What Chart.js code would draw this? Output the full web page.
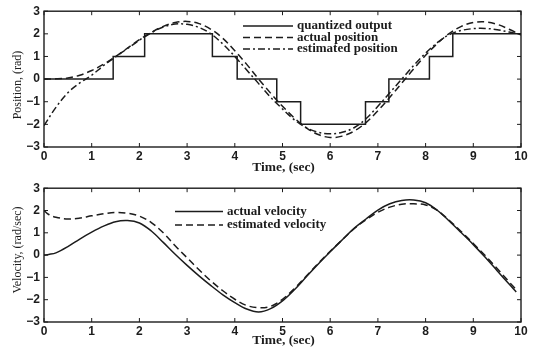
<!DOCTYPE html>
<html>
<head>
<meta charset="utf-8">
<script src="https://cdn.jsdelivr.net/npm/chart.js@4.4.1/dist/chart.umd.min.js"></script>
<style>
  body { margin: 0; background: #fff; }
  .panel { position: absolute; left: 0; width: 534px; height: 177px; }
</style>
</head>
<body>
<div class="panel" style="top:0"><canvas id="posChart"></canvas></div>
<div class="panel" style="top:177px"><canvas id="velChart"></canvas></div>
<script>
// sample times (sec)
const times = [0, 0.25, 0.5, 0.75, 1, 1.25, 1.5, 1.75, 2, 2.25, 2.5, 2.75, 3, 3.25, 3.5, 3.75,
  4, 4.25, 4.5, 4.75, 5, 5.25, 5.5, 5.75, 6, 6.25, 6.5, 6.75, 7, 7.25, 7.5, 7.75,
  8, 8.25, 8.5, 8.75, 9, 9.25, 9.5, 9.75, 10];

const actualPosition = [0, 0.01, 0.05, 0.17, 0.38, 0.66, 1.0, 1.37, 1.74, 2.06, 2.33, 2.5,
  2.55, 2.45, 2.2, 1.8, 1.25, 0.65, 0.0, -0.62, -1.2, -1.72, -2.15, -2.45, -2.58, -2.52,
  -2.3, -1.92, -1.4, -0.8, -0.18, 0.45, 1.05, 1.58, 2.02, 2.33, 2.5, 2.53, 2.42, 2.2, 1.95];

const estimatedPosition = [-2.05, -1.25, -0.6, -0.17, 0.17, 0.6, 0.98, 1.35, 1.72, 2.05, 2.3,
  2.43, 2.42, 2.28, 2.0, 1.55, 1.0, 0.4, -0.2, -0.8, -1.32, -1.8, -2.15, -2.35, -2.42,
  -2.35, -2.15, -1.75, -1.2, -0.6, 0.0, 0.6, 1.15, 1.62, 1.97, 2.15, 2.23, 2.24, 2.18, 2.08, 1.98];

// quantizer output: level holds from each switch time to the next
const quantTimes = [0, 1.45, 2.11, 3.53, 4.05, 4.88, 5.38, 6.74, 7.23, 8.08, 8.57, 10];
const quantLevels = [0, 1, 2, 1, 0, -1, -2, -1, 0, 1, 2, 2];

const velTimes = [0, 0.1, 0.25, 0.5, 0.75, 1, 1.25, 1.5, 1.75, 2, 2.25, 2.5, 2.75, 3, 3.25, 3.5,
  3.75, 4, 4.25, 4.5, 4.75, 5, 5.25, 5.5, 5.75, 6, 6.25, 6.5, 6.75, 7, 7.25, 7.5, 7.75,
  8, 8.25, 8.5, 8.75, 9, 9.25, 9.5, 9.75, 9.9];

const actualVelocity = [0, 0.03, 0.1, 0.38, 0.72, 1.03, 1.3, 1.5, 1.55, 1.44, 1.08, 0.57, 0.04,
  -0.46, -0.93, -1.37, -1.78, -2.13, -2.42, -2.55, -2.4, -2.05, -1.55, -0.97, -0.4, 0.15,
  0.68, 1.2, 1.62, 2.02, 2.3, 2.45, 2.47, 2.35, 2.0, 1.52, 1.0, 0.47, -0.1, -0.7, -1.3, -1.65];

const estimatedVelocity = [2.0, 1.82, 1.7, 1.62, 1.66, 1.76, 1.85, 1.91, 1.88, 1.75, 1.46, 1.0,
  0.42, -0.12, -0.66, -1.16, -1.6, -1.98, -2.26, -2.36, -2.3, -1.98, -1.5, -0.94, -0.37, 0.17,
  0.68, 1.18, 1.58, 1.92, 2.15, 2.28, 2.3, 2.25, 2.0, 1.55, 1.05, 0.52, -0.02, -0.6, -1.2, -1.55];

const xTicks = [0, 1, 2, 3, 4, 5, 6, 7, 8, 9, 10];
const yTicks = [-3, -2, -1, 0, 1, 2, 3];

const ink = '#1c1c1c';
const tickFont = { family: 'Liberation Sans', size: 12, weight: 'bold' };

function pairs(xs, ys) {
  return xs.map((x, i) => ({ x: x, y: ys[i] }));
}

// matlab style frame: box, inward ticks on all sides, titles and a frameless legend
const matlabFrame = {
  id: 'matlabFrame',
  afterDraw(chart, args, opts) {
    const { ctx, chartArea: a, scales } = chart;
    const line = (x1, y1, x2, y2) => {
      ctx.beginPath(); ctx.moveTo(x1, y1); ctx.lineTo(x2, y2); ctx.stroke();
    };
    ctx.save();
    ctx.strokeStyle = ink;
    ctx.lineWidth = 1.4;
    ctx.strokeRect(a.left, a.top, a.right - a.left, a.bottom - a.top);
    ctx.lineWidth = 1;
    xTicks.forEach(v => {
      const px = scales.x.getPixelForValue(v);
      line(px, a.bottom, px, a.bottom - 4);
      line(px, a.top, px, a.top + 4);
    });
    yTicks.forEach(v => {
      const py = scales.y.getPixelForValue(v);
      line(a.left, py, a.left + 4, py);
      line(a.right, py, a.right - 4, py);
    });

    ctx.fillStyle = ink;
    ctx.textAlign = 'center';
    ctx.textBaseline = 'middle';
    ctx.font = 'bold 13.5px "Liberation Serif"';
    ctx.fillText(opts.xTitle, (a.left + a.right) / 2 + 1, a.bottom + opts.xTitleGap);

    ctx.save();
    ctx.translate(18, opts.yTitleY);
    ctx.rotate(-Math.PI / 2);
    ctx.font = '12px "Liberation Serif"';
    ctx.fillText(opts.yTitle, 0, 0);
    ctx.restore();

    ctx.textAlign = 'left';
    ctx.font = 'bold 13px "Liberation Serif"';
    chart.data.datasets.forEach((ds, i) => {
      const ly = opts.legendY + i * opts.legendGap;
      ctx.setLineDash(ds.borderDash || []);
      ctx.lineWidth = 1.4;
      line(opts.legendX, ly, opts.legendX + opts.legendLen, ly);
      ctx.setLineDash([]);
      ctx.fillText(ds.label, opts.legendX + opts.legendLen + 4, ly);
    });
    ctx.restore();
  }
};

function axisOptions(bottomHeight) {
  return {
    x: {
      type: 'linear', min: 0, max: 10,
      afterFit: s => { s.height = bottomHeight; },
      afterBuildTicks: s => { s.ticks = xTicks.map(v => ({ value: v })); },
      grid: { display: false, drawTicks: false },
      border: { display: false },
      ticks: { color: ink, font: tickFont, padding: 2, maxRotation: 0 }
    },
    y: {
      min: -3, max: 3,
      afterFit: s => { s.width = 44; },
      afterBuildTicks: s => { s.ticks = yTicks.map(v => ({ value: v })); },
      grid: { display: false, drawTicks: false },
      border: { display: false },
      ticks: { color: ink, font: tickFont, padding: 4, callback: v => String(v).replace('-', '\u2212') }
    }
  };
}

const common = {
  responsive: false,
  animation: false,
  events: [],
  elements: { point: { radius: 0 }, line: { borderWidth: 1.5, tension: 0.35 } },
};

const posCanvas = document.getElementById('posChart');
posCanvas.width = 534; posCanvas.height = 177;
new Chart(posCanvas, {
  type: 'line',
  data: {
    datasets: [
      { label: 'quantized output', data: pairs(quantTimes, quantLevels), stepped: 'before',
        borderColor: ink },
      { label: 'actual position', data: pairs(times, actualPosition),
        borderColor: ink, borderDash: [7, 4] },
      { label: 'estimated position', data: pairs(times, estimatedPosition),
        borderColor: ink, borderDash: [7, 3, 2, 3] }
    ]
  },
  options: Object.assign({}, common, {
    layout: { padding: { top: 11, right: 13, left: 0, bottom: 0 } },
    scales: axisOptions(30),
    plugins: {
      legend: { display: false }, tooltip: { enabled: false },
      matlabFrame: { xTitle: 'Time, (sec)', xTitleGap: 21, yTitle: 'Position, (rad)', yTitleY: 85,
        legendX: 243, legendY: 26, legendGap: 11.5, legendLen: 50 }
    }
  }),
  plugins: [matlabFrame]
});

const velCanvas = document.getElementById('velChart');
velCanvas.width = 534; velCanvas.height = 177;
new Chart(velCanvas, {
  type: 'line',
  data: {
    datasets: [
      { label: 'actual velocity', data: pairs(velTimes, actualVelocity),
        borderColor: ink },
      { label: 'estimated velocity', data: pairs(velTimes, estimatedVelocity),
        borderColor: ink, borderDash: [7, 4] }
    ]
  },
  options: Object.assign({}, common, {
    layout: { padding: { top: 10, right: 13, left: 0, bottom: 0 } },
    scales: axisOptions(32),
    plugins: {
      legend: { display: false }, tooltip: { enabled: false },
      matlabFrame: { xTitle: 'Time, (sec)', xTitleGap: 19, yTitle: 'Velocity, (rad/sec)', yTitleY: 73,
        legendX: 175, legendY: 34.5, legendGap: 13.5, legendLen: 48 }
    }
  }),
  plugins: [matlabFrame]
});
</script>
</body>
</html>
